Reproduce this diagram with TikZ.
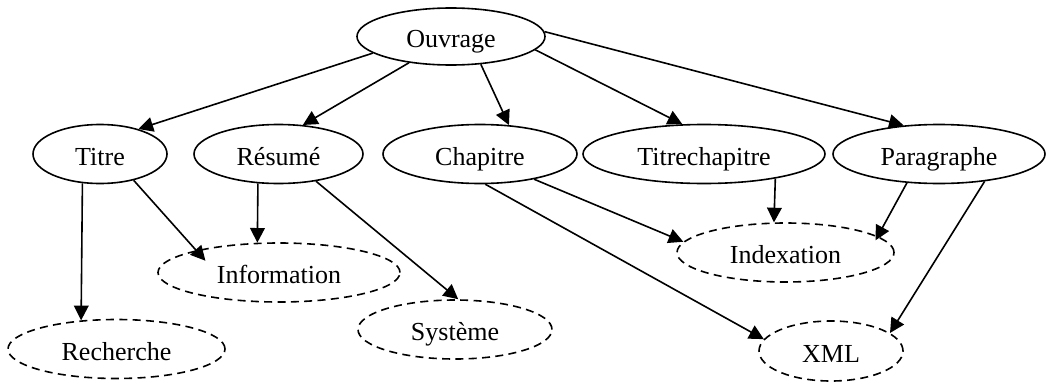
\documentclass[tikz,border=0pt]{standalone}
\usepackage{fontspec}
\setmainfont{Liberation Serif}
\usetikzlibrary{shapes.geometric,arrows.meta}
\begin{document}
\begin{tikzpicture}[x=0.75pt,y=-0.75pt,
  every node/.style={font=\fontsize{19.5}{23}\selectfont},
  concept/.style={ellipse,draw,line width=1.2pt,inner sep=0pt,minimum height=44.25pt,
    text height=17pt,text depth=0pt},
  term/.style={concept,dash pattern=on 6pt off 4pt},
  link/.style={line width=1.2pt,-{Triangle[length=11pt,width=11pt]}}]
\useasboundingbox (0,0) rectangle (1048,382);

% top level
\node[concept,minimum width=141pt,minimum height=42.75pt] (ouv) at (451,36.5) {Ouvrage};

% second level
\node[concept,minimum width=100.5pt] (titre)  at (100,154)   {Titre};
\node[concept,minimum width=126.75pt] (resume) at (278.5,154) {Résumé};
\node[concept,minimum width=145.5pt] (chap)   at (480,154)   {Chapitre};
\node[concept,minimum width=181.5pt] (tchap)  at (704,154)   {Titrechapitre};
\node[concept,minimum width=159pt]   (para)   at (939,154)   {Paragraphe};

% keywords
\node[term,minimum width=181.5pt] (info) at (279,272.5)   {Information};
\node[term,minimum width=162.75pt] (rech) at (116.5,349)  {Recherche};
\node[term,minimum width=145.5pt] (sys)  at (455,329.5)   {Système};
\node[term,minimum width=162.75pt] (idx) at (785.5,252.5) {Indexation};
\node[term,minimum width=108pt,minimum height=45pt] (xml) at (831,351) {XML};

% structure
\draw[link] (ouv.192) -- (titre.33);
\draw[link] (ouv.212) -- (resume.50);
\draw[link] (ouv.317) -- (chap.45);
\draw[link] (ouv.351) -- (tchap.126);
\draw[link] (ouv.3)   -- (para.141);

% indexing links
\draw[link] (titre.239) -- (rech.141);
\draw[link,shorten >=-10.5pt] (titre.322.6) -- (info.165);
\draw[link] (resume.235) -- (info.126);
\draw[link] (resume.324) -- (sys.84);
\draw[link] (chap.280) -- (xml.170);
\draw[link] (chap.335) -- (idx.174.6);
\draw[link] (tchap.341) -- (idx.111);
\draw[link,shorten >=-3.5pt] (para.222) -- (idx.10);
\draw[link] (para.329) -- (xml.17);
\end{tikzpicture}
\end{document}
